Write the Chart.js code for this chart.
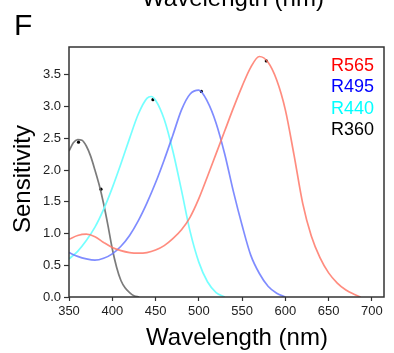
<!DOCTYPE html>
<html>
<head>
<meta charset="utf-8">
<script src="https://cdn.jsdelivr.net/npm/chart.js@4.4.1/dist/chart.umd.min.js"></script>
<style>
    html, body { margin: 0; padding: 0; background: #fff; }
    canvas { display: block; }
</style>
</head>
<body>
<canvas id="sensChart" width="394" height="353"></canvas>
<script>
// Spectral sensitivity curves
const r360Wl = [350, 355, 360, 365, 370, 375, 380, 385, 390, 395, 400, 405, 410, 415, 420, 425, 431];
const r360Val = [2.30, 2.43, 2.48, 2.47, 2.38, 2.22, 2.00, 1.76, 1.47, 1.13, 0.76, 0.47, 0.26, 0.14, 0.07, 0.02, 0.0];

const r440Wl = [350, 360, 370, 380, 390, 400, 410, 420, 430, 440, 445, 450, 460, 470, 480, 490, 500, 510, 520, 530];
const r440Val = [0.60, 0.72, 0.89, 1.10, 1.38, 1.72, 2.10, 2.50, 2.88, 3.13, 3.16, 3.10, 2.80, 2.30, 1.68, 1.03, 0.55, 0.24, 0.07, 0.0];

const r495Wl = [350, 360, 370, 380, 390, 400, 410, 420, 430, 440, 450, 460, 470, 480, 490, 500, 510, 520, 530, 540, 550, 560, 570, 580, 590, 600];
const r495Val = [0.70, 0.64, 0.60, 0.58, 0.61, 0.68, 0.80, 0.97, 1.20, 1.48, 1.80, 2.16, 2.55, 2.95, 3.20, 3.26, 3.08, 2.74, 2.25, 1.66, 1.13, 0.66, 0.37, 0.17, 0.06, 0.0];

const r565Wl = [350, 360, 370, 380, 390, 400, 410, 420, 430, 440, 450, 460, 470, 480, 490, 500, 510, 520, 530, 540, 550, 560, 570, 580, 590, 600, 610, 620, 630, 640, 650, 660, 670, 680, 687];
const r565Val = [0.91, 0.97, 0.99, 0.95, 0.86, 0.78, 0.73, 0.70, 0.69, 0.70, 0.74, 0.81, 0.92, 1.06, 1.26, 1.55, 1.90, 2.26, 2.62, 2.98, 3.32, 3.62, 3.79, 3.70, 3.42, 2.95, 2.24, 1.48, 0.96, 0.62, 0.38, 0.22, 0.11, 0.04, 0.0];

// black dots near each peak
const markerWl = [361, 387, 447, 503, 578];
const markerVal = [2.44, 1.70, 3.11, 3.24, 3.72];

const xTicks = [350, 400, 450, 500, 550, 600, 650, 700];
const yTicks = [0, 0.5, 1.0, 1.5, 2.0, 2.5, 3.0, 3.5];

const legendLabels = ['R565', 'R495', 'R440', 'R360'];
const legendColors = ['#ff0000', '#0000ff', '#00ffff', '#000000'];

const FONT = "'Liberation Sans', Arial, sans-serif";

function toPoints(xs, ys) {
    return xs.map((x, i) => ({ x: x, y: ys[i] }));
}

function curve(label, xs, ys, color) {
    return {
        type: 'line',
        label: label,
        data: toPoints(xs, ys),
        borderColor: color,
        borderWidth: 1.7,
        pointRadius: 0,
        cubicInterpolationMode: 'monotone',
        fill: false
    };
}

// frame, legend text, panel letter and axis titles
const decorations = {
    id: 'decorations',
    afterDraw(chart) {
        const { ctx, chartArea } = chart;
        ctx.save();
        ctx.strokeStyle = '#333';
        ctx.lineWidth = 1.5;
        ctx.strokeRect(chartArea.left, chartArea.top, chartArea.right - chartArea.left, chartArea.bottom - chartArea.top);

        ctx.textAlign = 'right';
        ctx.textBaseline = 'alphabetic';
        ctx.font = '18px ' + FONT;
        legendLabels.forEach((lab, i) => {
            ctx.fillStyle = legendColors[i];
            ctx.fillText(lab, 374, 71 + i * 21.3);
        });

        ctx.fillStyle = '#000';
        ctx.textAlign = 'left';
        ctx.font = '30px ' + FONT;
        ctx.fillText('F', 14, 35);

        ctx.textAlign = 'center';
        ctx.font = '24px ' + FONT;
        ctx.fillText('Wavelength (nm)', 233, 6);
        ctx.fillText('Wavelength (nm)', 237, 345);

        ctx.translate(30, 179);
        ctx.rotate(-Math.PI / 2);
        ctx.fillText('Sensitivity', 0, 0);
        ctx.restore();
    }
};

const ctx = document.getElementById('sensChart').getContext('2d');
new Chart(ctx, {
    data: {
        datasets: [
            curve('R565', r565Wl, r565Val, 'rgba(255, 120, 105, 0.85)'),
            curve('R495', r495Wl, r495Val, 'rgba(105, 120, 255, 0.85)'),
            curve('R440', r440Wl, r440Val, 'rgba(110, 255, 255, 0.95)'),
            curve('R360', r360Wl, r360Val, 'rgba(100, 100, 100, 0.85)'),
            {
                type: 'scatter',
                label: 'peaks',
                data: toPoints(markerWl, markerVal),
                backgroundColor: '#000',
                borderColor: '#000',
                pointRadius: 1.6,
                borderWidth: 0
            }
        ]
    },
    options: {
        responsive: false,
        devicePixelRatio: 1,
        animation: false,
        layout: { padding: { top: 47, right: 10, left: 0, bottom: 0 } },
        plugins: {
            legend: { display: false },
            tooltip: { enabled: false }
        },
        scales: {
            x: {
                type: 'linear',
                min: 350,
                max: 714,
                afterFit: s => { s.height = 56; },
                afterBuildTicks: s => { s.ticks = xTicks.map(v => ({ value: v })); },
                ticks: {
                    font: { family: FONT, size: 13 },
                    color: '#222',
                    padding: 3,
                    maxRotation: 0
                },
                grid: { drawOnChartArea: false, drawTicks: true, tickLength: 4, tickColor: '#333', tickWidth: 1.2 },
                border: { display: false }
            },
            y: {
                type: 'linear',
                min: 0,
                max: 3.94,
                afterFit: s => { s.width = 69; },
                afterBuildTicks: s => { s.ticks = yTicks.map(v => ({ value: v })); },
                ticks: {
                    font: { family: FONT, size: 13 },
                    color: '#222',
                    padding: 3,
                    callback: v => v.toFixed(1)
                },
                grid: { drawOnChartArea: false, drawTicks: true, tickLength: 5, tickColor: '#333', tickWidth: 1.2 },
                border: { display: false }
            }
        }
    },
    plugins: [decorations]
});
</script>
</body>
</html>
